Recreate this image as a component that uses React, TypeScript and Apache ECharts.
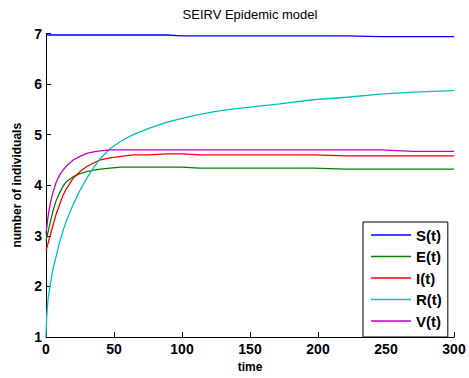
import React, { useEffect, useRef } from "react";
import * as echarts from "echarts";

const times = [0, 0.5, 1.5, 3, 5, 7.5, 10, 12.5, 15, 20, 25, 30, 35, 40, 47, 55, 64, 75, 89, 100, 113, 125, 138, 155, 172, 196, 221, 246, 270, 300];
const sVals = [6.97, 6.97, 6.97, 6.97, 6.97, 6.97, 6.97, 6.97, 6.97, 6.97, 6.97, 6.97, 6.97, 6.97, 6.97, 6.97, 6.97, 6.97, 6.97, 6.955, 6.955, 6.955, 6.955, 6.955, 6.955, 6.955, 6.955, 6.94, 6.94, 6.94];
const eVals = [2.9, 2.96, 3.08, 3.25, 3.48, 3.7, 3.85, 3.98, 4.07, 4.17, 4.23, 4.27, 4.3, 4.32, 4.34, 4.36, 4.36, 4.36, 4.36, 4.36, 4.34, 4.34, 4.34, 4.34, 4.34, 4.34, 4.32, 4.32, 4.32, 4.32];
const iVals = [2.71, 2.75, 2.85, 3.0, 3.2, 3.43, 3.62, 3.8, 3.93, 4.14, 4.27, 4.37, 4.44, 4.5, 4.54, 4.57, 4.6, 4.6, 4.62, 4.62, 4.6, 4.6, 4.6, 4.6, 4.6, 4.6, 4.58, 4.58, 4.58, 4.58];
const rVals = [1.0, 1.4, 1.75, 2.0, 2.33, 2.6, 2.88, 3.1, 3.3, 3.62, 3.9, 4.14, 4.35, 4.53, 4.72, 4.87, 5.0, 5.12, 5.25, 5.32, 5.4, 5.46, 5.51, 5.56, 5.61, 5.69, 5.74, 5.8, 5.84, 5.87];
const vVals = [3.05, 3.15, 3.38, 3.62, 3.85, 4.06, 4.2, 4.3, 4.38, 4.5, 4.57, 4.63, 4.66, 4.68, 4.7, 4.7, 4.7, 4.7, 4.7, 4.7, 4.7, 4.7, 4.7, 4.7, 4.7, 4.7, 4.7, 4.7, 4.67, 4.67];

const seriesNames = ["S(t)", "E(t)", "I(t)", "R(t)", "V(t)"];
const seriesColors = ["#0000ff", "#008000", "#ff0000", "#00bfbf", "#bf00bf"];
const seriesValues = [sVals, eVals, iVals, rVals, vVals];

const FONT = "'Liberation Sans', Arial, Helvetica, sans-serif";

export default function App() {
  const ref = useRef<HTMLDivElement>(null);
  useEffect(() => {
    document.body.style.margin = "0";
    if (!ref.current) return;
    const chart = echarts.init(ref.current, null, { renderer: "svg" });
    chart.setOption({
      animation: false,
      backgroundColor: "#fff",
      textStyle: { fontFamily: FONT },
      grid: { left: 46, right: 15, top: 33.5, bottom: 37, containLabel: false },
      graphic: [
        {
          type: "text",
          x: 250,
          y: 14,
          style: {
            text: "SEIRV Epidemic model",
            fontSize: 13,
            fontFamily: FONT,
            fill: "#000",
            align: "center",
            verticalAlign: "middle",
          },
        },
      ],
      legend: {
        orient: "vertical",
        left: 363,
        top: 222,
        data: seriesNames,
        icon: "rect",
        itemWidth: 40,
        itemHeight: 1.5,
        itemGap: 5.5,
        padding: [5, 6, 8, 8],
        borderColor: "#000",
        borderWidth: 1,
        backgroundColor: "#fff",
        textStyle: { fontSize: 15, fontWeight: "bold", color: "#000", lineHeight: 16, fontFamily: FONT },
      },
      xAxis: {
        type: "value",
        min: 0,
        max: 300,
        interval: 50,
        name: "time",
        nameLocation: "middle",
        nameGap: 24,
        nameTextStyle: { fontSize: 12, fontWeight: "bold", color: "#000", fontFamily: FONT },
        axisLine: { show: true, onZero: false, lineStyle: { color: "#000", width: 1 } },
        axisTick: { show: true, inside: true, length: 5, lineStyle: { color: "#000" } },
        axisLabel: { fontSize: 14, fontWeight: "bold", color: "#000", margin: 5, fontFamily: FONT },
        splitLine: { show: false },
      },
      yAxis: {
        type: "value",
        min: 1,
        max: 7,
        interval: 1,
        name: "number of individuals",
        nameLocation: "middle",
        nameGap: 22,
        nameTextStyle: { fontSize: 12, fontWeight: "bold", color: "#000", fontFamily: FONT },
        axisLine: { show: true, onZero: false, lineStyle: { color: "#000", width: 1 } },
        axisTick: { show: true, inside: true, length: 5, lineStyle: { color: "#000" } },
        axisLabel: { fontSize: 14, fontWeight: "bold", color: "#000", margin: 4, fontFamily: FONT },
        splitLine: { show: false },
      },
      series: seriesNames.map((name, k) => ({
        name,
        type: "line",
        symbol: "none",
        showSymbol: false,
        color: seriesColors[k],
        lineStyle: { color: seriesColors[k], width: 1.3 },
        data: times.map((t, i) => [t, seriesValues[k][i]]),
      })),
    });
    return () => chart.dispose();
  }, []);
  return <div ref={ref} style={{ width: 469, height: 378 }} />;
}
